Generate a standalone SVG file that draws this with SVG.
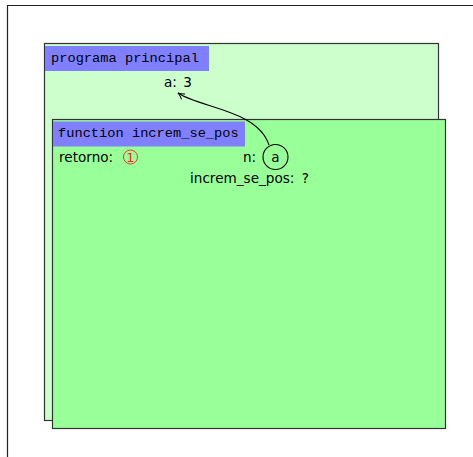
<svg xmlns="http://www.w3.org/2000/svg" width="473" height="457" viewBox="0 0 473 457">
<defs>
<style>
.frame{fill:none;stroke:#222;stroke-width:1.2}
.box{stroke:#333;stroke-width:1.2}
.title{fill:#8080ff}
.tt{font-family:"Liberation Mono",monospace;font-size:13.7px;fill:#000}
.sf{font-family:"DejaVu Sans","Liberation Sans",sans-serif;font-size:13.6px;fill:#000}
.conn{fill:none;stroke:#000;stroke-width:1.1}
</style>
<marker id="arr" viewBox="0 0 10 10" refX="9" refY="5" markerWidth="8" markerHeight="8" orient="auto" markerUnits="userSpaceOnUse">
<path d="M1,1 Q5,4 9,5 Q5,6 1,9" fill="none" stroke="#000" stroke-width="1.2"/>
</marker>
</defs>
<rect width="473" height="457" fill="#fff"/>
<path class="frame" d="M7.5,457 V5.5 H473"/>
<g id="programa_principal">
<rect class="box" x="44.5" y="43.5" width="394" height="377" fill="#ccffcc"/>
<rect class="title" x="45" y="46" width="164" height="25"/>
<text class="tt" x="51" y="62">programa principal</text>
<text class="sf" x="164" y="87" word-spacing="2">a: 3</text>
</g>
<g id="function_increm_se_pos">
<rect class="box" x="52.5" y="119.5" width="393" height="309" fill="#99ff99"/>
<rect class="title" x="53" y="121.5" width="192" height="25"/>
<text class="tt" x="58" y="137">function increm_se_pos</text>
<text class="sf" x="59" y="162">retorno:</text>
<circle cx="130.5" cy="157" r="7" fill="none" stroke="#ff2020" stroke-width="0.9"/>
<text x="130.5" y="162" text-anchor="middle" font-family="DejaVu Sans, sans-serif" font-size="13" fill="#ff2020">1</text>
<text class="sf" x="243" y="162">n:</text>
<circle cx="275.5" cy="157" r="12.5" fill="none" stroke="#000" stroke-width="1.1"/>
<text class="sf" x="275.5" y="162" text-anchor="middle">a</text>
<text class="sf" x="190" y="183" word-spacing="3">increm_se_pos: ?</text>
</g>
<g id="connectors">
<path class="conn" d="M269,145 C258,110 200,108 178,93" marker-end="url(#arr)"/>
</g>
</svg>
